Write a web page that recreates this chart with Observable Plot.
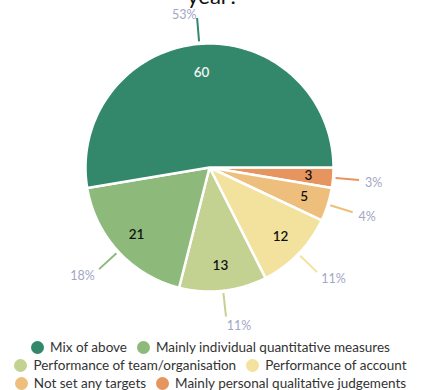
<!DOCTYPE html>
<html>
<head>
<meta charset="utf-8">
<script src="https://cdn.jsdelivr.net/npm/d3@7"></script>
<script src="https://cdn.jsdelivr.net/npm/@observablehq/plot@0.6"></script>
<style>
  html, body { margin: 0; padding: 0; background: #fff; overflow: hidden; }
  body { width: 421px; height: 390px; position: relative; font-family: Lato, "Noto Sans", sans-serif; }
  #title { position: absolute; top: -16px; left: 0; width: 426px; text-align: center; font-size: 22px; line-height: 24px; color: #111; }
  #chart { position: absolute; top: 0; left: 0; }
  #legend { position: absolute; top: 338px; left: 0; width: 421px; font-size: 13.5px; color: #333; }
  .row { display: flex; justify-content: center; gap: 10px; height: 18px; align-items: center; }
  .item { display: flex; align-items: center; white-space: nowrap; }
  .sw { width: 13px; height: 13px; border-radius: 50%; margin-right: 6px; }
</style>
</head>
<body>
<div id="title">year?</div>
<div id="chart"></div>
<div id="legend"></div>
<script>
// Data (clockwise order from 3 o'clock)
const categories = ["Mainly personal qualitative judgements", "Not set any targets", "Performance of account", "Performance of team/organisation", "Mainly individual quantitative measures", "Mix of above"];
const values = [3, 5, 12, 13, 21, 60];
const percentLabels = ["3%", "4%", "11%", "11%", "18%", "53%"];
const colors = ["#e6955f", "#eebf7c", "#f3e29d", "#c3d291", "#8db97b", "#33886c"];
const legendRows = [
  ["Mix of above", "Mainly individual quantitative measures"],
  ["Performance of team/organisation", "Performance of account"],
  ["Not set any targets", "Mainly personal qualitative judgements"]
];

const W = 421, H = 336;
const cx = 209, cy = 167, R = 124; // layout
const total = d3.sum(values);
const startDeg = 90;

// slices as polygons (angle measured clockwise from 12 o'clock)
const pts = [];
const labels = [];
let acc = 0;
values.forEach((v, i) => {
  const a0 = startDeg + acc / total * 360;
  const a1 = startDeg + (acc + v) / total * 360;
  acc += v;
  const rad = d => d * Math.PI / 180;
  pts.push({name: categories[i], x: 0, y: 0});
  const n = Math.max(2, Math.ceil(a1 - a0));
  for (let k = 0; k <= n; k++) {
    const a = rad(a0 + (a1 - a0) * k / n);
    pts.push({name: categories[i], x: Math.sin(a), y: Math.cos(a)});
  }
  const am = rad((a0 + a1) / 2);
  const s = Math.sin(am), c = Math.cos(am);
  const lr = i === 5 ? 0.77 : 0.8;
  const l2 = 1.21;
  labels.push({
    name: categories[i], value: v, pct: percentLabels[i],
    vx: s * lr, vy: c * lr,
    x1: s * 1.02, y1: c * 1.02, x2: s * l2, y2: c * l2,
    tx: s * l2 + (6 * s) / R, ty: c * l2 - (3 - 6 * c) / R,
    right: s >= 0, dark: i === 5
  });
});

const chart = Plot.plot({
  width: W, height: H,
  margin: 0,
  x: {domain: [-cx / R, (W - cx) / R], axis: null},
  y: {domain: [-(H - cy) / R, cy / R], axis: null},
  color: {domain: categories, range: colors},
  style: {fontFamily: "Lato, 'Noto Sans', sans-serif", background: "transparent"},
  marks: [
    Plot.line(pts, {x: "x", y: "y", z: "name", fill: "name", stroke: "white", strokeWidth: 2.5, curve: "linear-closed", strokeLinejoin: "round"}),
    Plot.link(labels, {x1: "x1", y1: "y1", x2: "x2", y2: "y2", stroke: "name", strokeWidth: 2}),
    Plot.text(labels.filter(d => !d.dark), {x: "vx", y: "vy", text: d => String(d.value), fill: "#111", fontSize: 13.5, fontWeight: 600}),
    Plot.text(labels.filter(d => d.dark), {x: "vx", y: "vy", text: d => String(d.value), fill: "#f2f2f2", fontSize: 13.5, fontWeight: 600}),
    Plot.text(labels.filter(d => d.right), {x: "tx", y: "ty", text: "pct", fill: "#a3a5c6", fontSize: 12.5, textAnchor: "start"}),
    Plot.text(labels.filter(d => !d.right), {x: "tx", y: "ty", text: "pct", fill: "#a3a5c6", fontSize: 12.5, textAnchor: "end"})
  ]
});
document.getElementById("chart").appendChild(chart);

const colorOf = Object.fromEntries(categories.map((c, i) => [c, colors[i]]));
const legend = document.getElementById("legend");
legendRows.forEach(row => {
  const r = document.createElement("div");
  r.className = "row";
  row.forEach(name => {
    const it = document.createElement("div");
    it.className = "item";
    const sw = document.createElement("span");
    sw.className = "sw";
    sw.style.background = colorOf[name];
    const t = document.createElement("span");
    t.textContent = name;
    it.appendChild(sw); it.appendChild(t);
    r.appendChild(it);
  });
  legend.appendChild(r);
});
</script>
</body>
</html>
